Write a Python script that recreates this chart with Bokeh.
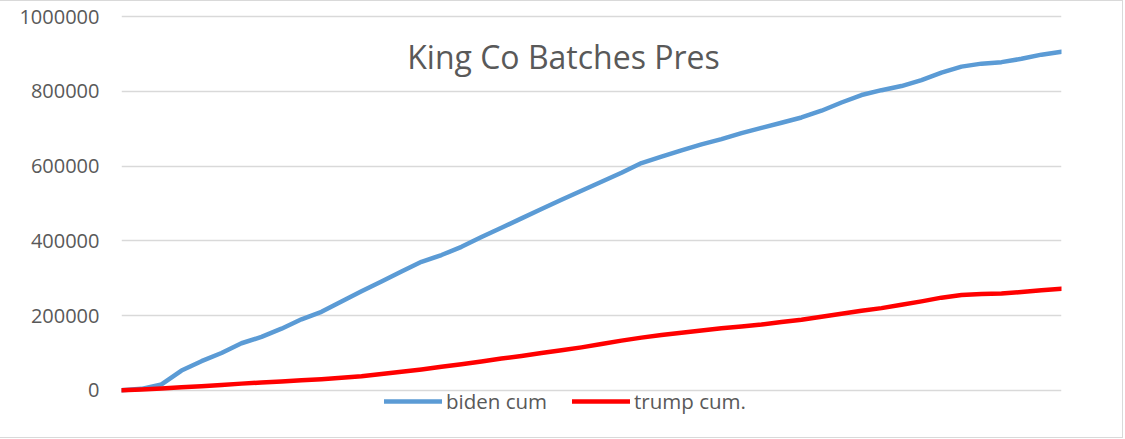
from bokeh.plotting import figure
from bokeh.models import Range1d, FixedTicker, Label, Legend, LegendItem
from bokeh.embed import file_html
from bokeh.resources import INLINE

batch = list(range(48))
biden_cum = [0, 4000, 16000, 53000, 78000, 100000, 126000, 143000, 165000, 190000,
             210000, 238000, 265000, 291000, 318000, 344000, 362000, 384000, 410000, 435000,
             460000, 485000, 510000, 534000, 558000, 582000, 608000, 625000, 642000, 658000,
             672000, 688000, 702000, 716000, 730000, 748000, 770000, 790000, 803000, 814000,
             830000, 850000, 866000, 874000, 878000, 887000, 898000, 906000]
trump_cum = [0, 2000, 5000, 8000, 11000, 14000, 18000, 21000, 24000, 27000,
             30000, 34000, 38000, 44000, 50000, 56000, 63000, 70000, 77000, 85000,
             92000, 100000, 107000, 115000, 124000, 133000, 141000, 148000, 154000, 160000,
             166000, 171000, 176000, 183000, 189000, 197000, 205000, 213000, 220000, 229000,
             238000, 248000, 255000, 258000, 259000, 263000, 268000, 272000]
y_ticks = [0, 200000, 400000, 600000, 800000, 1000000]
title_text = "King Co Batches Pres"
series_names = ["biden cum", "trump cum."]

FONT = "Open Sans"
GREY = "#595959"

p = figure(width=1123, height=438, output_backend="svg", toolbar_location=None,
           x_range=Range1d(0, len(batch) - 1), y_range=Range1d(-86000, 1021500),
           min_border_left=121, min_border_right=62, min_border_top=7, min_border_bottom=17)
p.outline_line_color = None
p.background_fill_color = "white"
p.border_fill_color = "white"
p.styles = {"border-top": "1px solid #d9d9d9", "border-bottom": "1px solid #d9d9d9",
            "border-right": "1px solid #d9d9d9", "box-sizing": "border-box"}

p.xaxis.visible = False
p.xgrid.visible = False
p.yaxis.ticker = FixedTicker(ticks=y_ticks)
p.yaxis.axis_line_color = None
p.yaxis.major_tick_line_color = None
p.yaxis.minor_tick_line_color = None
p.yaxis.major_tick_out = 0
p.yaxis.major_label_standoff = 22
p.yaxis.major_label_text_font = FONT
p.yaxis.major_label_text_font_size = "20px"
p.yaxis.major_label_text_color = GREY
p.yaxis.formatter.use_scientific = False
p.ygrid.grid_line_color = "#d9d9d9"
p.ygrid.grid_line_width = 1.5

r1 = p.line(batch, biden_cum, line_color="#5B9BD5", line_width=4.5, line_cap="round", line_join="round")
r2 = p.line(batch, trump_cum, line_color="#FF0000", line_width=4.5, line_cap="round", line_join="round")

title = Label(x=442, y=366, x_units="screen", y_units="screen", text=title_text,
              text_align="center", text_baseline="middle", text_font=FONT,
              text_font_size="32px", text_color=GREY)
p.add_layout(title)

legend = Legend(items=[LegendItem(label=series_names[0], renderers=[r1]),
                       LegendItem(label=series_names[1], renderers=[r2])],
                location=(263, 7), orientation="horizontal",
                glyph_width=58, glyph_height=20, label_standoff=4, spacing=25,
                padding=0, margin=0, border_line_color=None, background_fill_alpha=0,
                label_text_font=FONT, label_text_font_size="20.5px", label_text_color=GREY)
p.add_layout(legend)

open("out.html", "w").write(file_html(p, INLINE))
